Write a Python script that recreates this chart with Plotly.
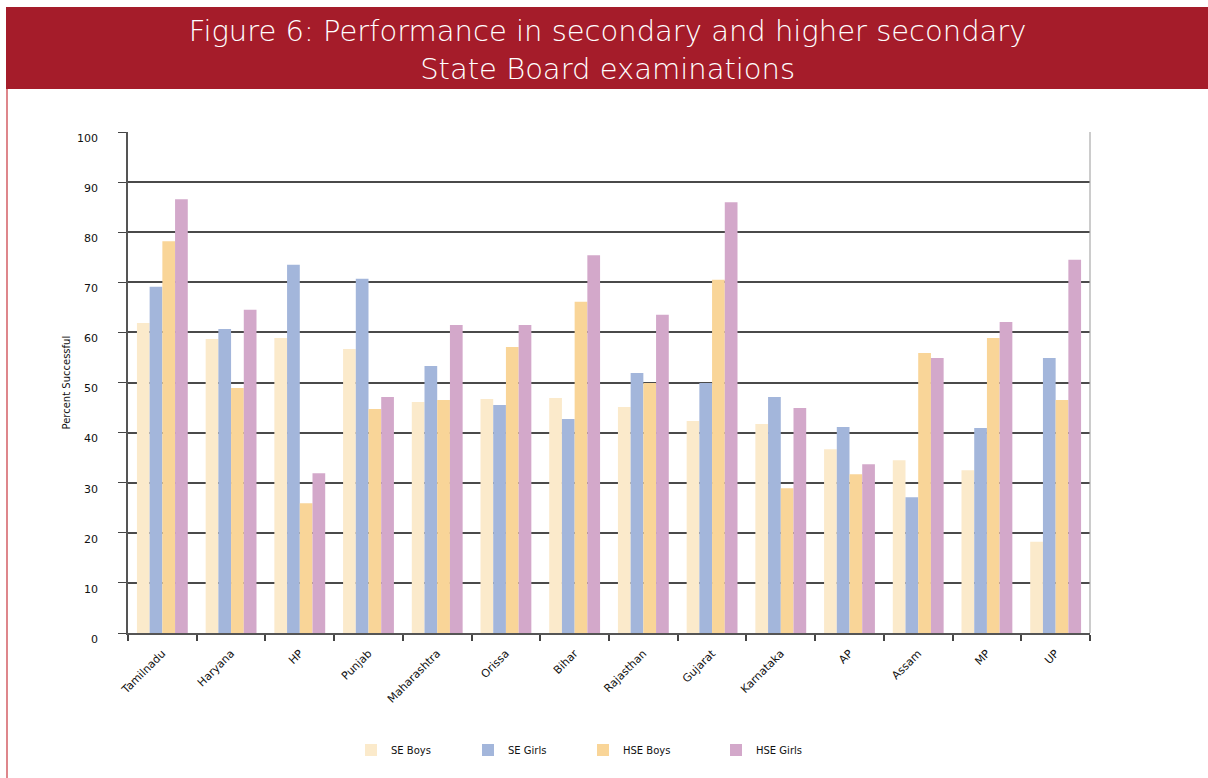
import plotly.graph_objects as go

states = ["Tamilnadu", "Haryana", "HP", "Punjab", "Maharashtra", "Orissa", "Bihar",
          "Rajasthan", "Gujarat", "Karnataka", "AP", "Assam", "MP", "UP"]
se_boys = [61.9, 58.7, 58.9, 56.7, 46.1, 46.7, 46.9, 45.1, 42.3, 41.7, 36.7, 34.5, 32.5, 18.2]
se_girls = [69.1, 60.7, 73.5, 70.7, 53.3, 45.5, 42.7, 51.9, 49.9, 47.1, 41.1, 27.1, 40.9, 54.9]
hse_boys = [78.2, 48.9, 25.9, 44.7, 46.5, 57.1, 66.1, 49.9, 70.5, 28.9, 31.7, 55.9, 58.9, 46.5]
hse_girls = [86.6, 64.5, 31.9, 47.1, 61.5, 61.5, 75.4, 63.5, 86.0, 44.9, 33.7, 54.9, 62.1, 74.5]
y_ticks = [0, 10, 20, 30, 40, 50, 60, 70, 80, 90, 100]

series_names = ["SE Boys", "SE Girls", "HSE Boys", "HSE Girls"]
series_vals = [se_boys, se_girls, hse_boys, hse_girls]
colors = ["#FBEACB", "#A3B6DB", "#F9D598", "#D3A8CA"]
legend_ids = ["legend", "legend2", "legend3", "legend4"]
legend_x = [351, 468, 583, 716]

W, H = 1208, 778
ML, MR, MT, MB = 128, 118, 132, 145
PW, PH = W - ML - MR, H - MT - MB

def px_x(px):
    return (px - ML) / PW

def px_y(py):
    return (H - MB - py) / PH

fig = go.Figure()
for name, vals, col, lg in zip(series_names, series_vals, colors, legend_ids):
    fig.add_trace(go.Bar(x=states, y=vals, name=name, marker=dict(color=col, line=dict(width=0)),
                         legend=lg))

font_main = "DejaVu Sans"
legends = {}
for lg, lx in zip(legend_ids, legend_x):
    legends[lg] = dict(xref="container", yref="container", x=lx / W, y=1 - 750 / H,
                       xanchor="left", yanchor="middle", orientation="h",
                       font=dict(family=font_main, size=10, color="#111"),
                       bgcolor="rgba(0,0,0,0)", itemwidth=30)

fig.update_layout(
    width=W, height=H,
    margin=dict(l=ML, r=MR, t=MT, b=MB),
    paper_bgcolor="white", plot_bgcolor="white",
    barmode="group", bargap=0.26, bargroupgap=0,
    showlegend=True,
    title=dict(text="Figure 6: Performance in secondary and higher secondary<br>State Board examinations",
               x=0.503, xref="container", xanchor="center",
               y=1 - 41 / H, yref="container", yanchor="middle",
               font=dict(family=font_main, size=29, color="white", weight=200)),
    xaxis=dict(type="category", showline=True, linecolor="#555", linewidth=1.5,
               ticks="outside", tickson="boundaries", ticklen=6, tickcolor="#444", tickwidth=1.5,
               tickangle=-45, ticklabelstandoff=8,
               tickfont=dict(family=font_main, size=11, color="#111"),
               showgrid=False),
    yaxis=dict(range=[0, 100], tickvals=y_ticks, showline=True, linecolor="#555", linewidth=1.5,
               ticks="outside", ticklen=8, tickcolor="#444", tickwidth=1.2,
               ticklabelstandoff=18, ticklabelshift=6,
               tickfont=dict(family=font_main, size=11, color="#111"),
               showgrid=True, gridcolor="#4a4a4a", gridwidth=1.5, zeroline=False),
    shapes=[
        dict(type="rect", xref="paper", yref="paper", x0=px_x(6), x1=px_x(1210),
             y0=px_y(89), y1=px_y(7), fillcolor="#A51C2A", line=dict(width=0), layer="below"),
        dict(type="line", xref="paper", yref="paper", x0=px_x(7), x1=px_x(7),
             y0=px_y(89), y1=px_y(780), line=dict(color="#C8363F", width=1.2)),
        dict(type="line", xref="paper", yref="paper", x0=1, x1=1, y0=0, y1=1,
             line=dict(color="#aaaaaa", width=1.2)),
    ],
    annotations=[
        dict(text="Percent Successful", xref="paper", yref="paper", x=px_x(66), y=0.5,
             textangle=-90, showarrow=False, xanchor="center", yanchor="middle",
             font=dict(family=font_main, size=10, color="#111")),
    ],
    **legends,
)

fig.write_html("out.html")
